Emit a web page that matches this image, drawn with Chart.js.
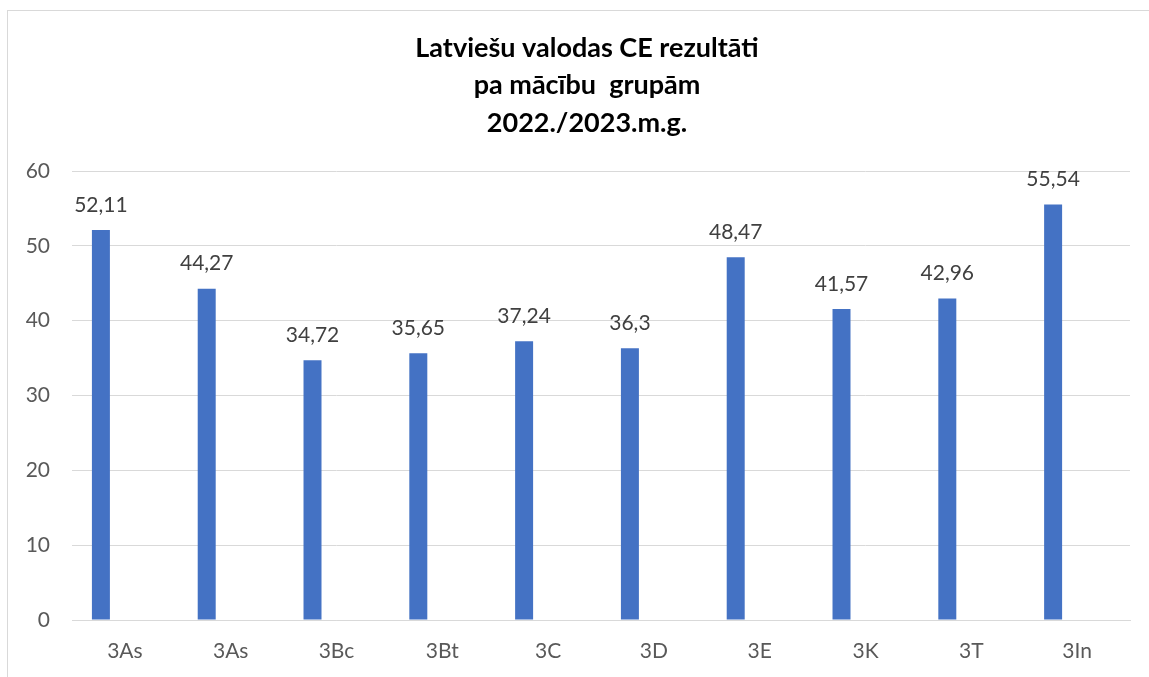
<!DOCTYPE html>
<html>
<head>
<meta charset="utf-8">
<script src="https://cdn.jsdelivr.net/npm/chart.js@4"></script>
<style>
    html, body { margin: 0; padding: 0; background: #fff; overflow: hidden; }
    #wrap { position: relative; width: 1149px; height: 677px; }
    #frame {
        position: absolute; left: 7px; top: 10px; width: 1200px; height: 700px;
        border-left: 1px solid #d9d9d9; border-top: 1px solid #d9d9d9;
    }
    canvas { position: absolute; left: 0; top: 0; }
</style>
</head>
<body>
<div id="wrap">
    <div id="frame"></div>
    <canvas id="chartRezultati" width="1149" height="677"></canvas>
</div>
<script>
// ===============================
// DATI
// ===============================
const grupas = ["3As", "3As", "3Bc", "3Bt", "3C", "3D", "3E", "3K", "3T", "3In"];
const rezultati = [52.11, 44.27, 34.72, 35.65, 37.24, 36.3, 48.47, 41.57, 42.96, 55.54];
const tuksa = [null, null, null, null, null, null, null, null, null, null];
const yTicks = [0, 10, 20, 30, 40, 50, 60];
const virsraksts = ["Latviešu valodas CE rezultāti", "pa mācību  grupām", "2022./2023.m.g."];

const fonts = "Lato, 'Open Sans', sans-serif";

// vērtību etiķetes virs stabiņiem
const valueLabels = {
    id: "valueLabels",
    afterDatasetsDraw(chart) {
        const ctx = chart.ctx;
        const meta = chart.getDatasetMeta(0);
        ctx.save();
        ctx.font = "21px " + fonts;
        ctx.fillStyle = "#404040";
        ctx.textAlign = "center";
        ctx.textBaseline = "middle";
        meta.data.forEach((bar, i) => {
            const v = rezultati[i];
            ctx.fillText(String(v).replace(".", ","), bar.x, bar.y - 25);
        });
        ctx.restore();
    }
};

// virsraksts (3 rindas), nedaudz pa labi no centra kā oriģinālā
const titleLines = {
    id: "titleLines",
    afterDraw(chart) {
        const ctx = chart.ctx;
        ctx.save();
        ctx.font = "bold 27px " + fonts;
        ctx.fillStyle = "#000";
        ctx.textAlign = "center";
        ctx.textBaseline = "middle";
        virsraksts.forEach((t, i) => ctx.fillText(t, 587, 48 + i * 37.5));
        ctx.restore();
    }
};

new Chart(document.getElementById("chartRezultati"), {
    type: "bar",
    data: {
        labels: grupas,
        datasets: [
            { data: rezultati, backgroundColor: "#4472c4" },
            { data: tuksa, backgroundColor: "#ed7d31" }
        ]
    },
    options: {
        responsive: false,
        animation: false,
        layout: { padding: { left: 8, right: 19, top: 171, bottom: 10 } },
        datasets: { bar: { categoryPercentage: 0.907, barPercentage: 0.375 } },
        plugins: {
            legend: { display: false },
            tooltip: { enabled: false },
            title: { display: false }
        },
        scales: {
            x: {
                grid: { display: false, drawTicks: false },
                border: { display: true, color: "#d9d9d9" },
                ticks: { color: "#595959", font: { family: fonts, size: 21 }, padding: 19, maxRotation: 0 },
                afterFit(scale) { scale.height = 47; }
            },
            y: {
                min: 0,
                max: 60,
                afterBuildTicks(scale) { scale.ticks = yTicks.map(v => ({ value: v })); },
                grid: { color: "#d9d9d9", drawTicks: false },
                border: { display: false },
                ticks: { color: "#595959", font: { family: fonts, size: 21 }, padding: 22 },
                afterFit(scale) { scale.width = 64; }
            }
        }
    },
    plugins: [valueLabels, titleLines]
});
</script>
</body>
</html>
